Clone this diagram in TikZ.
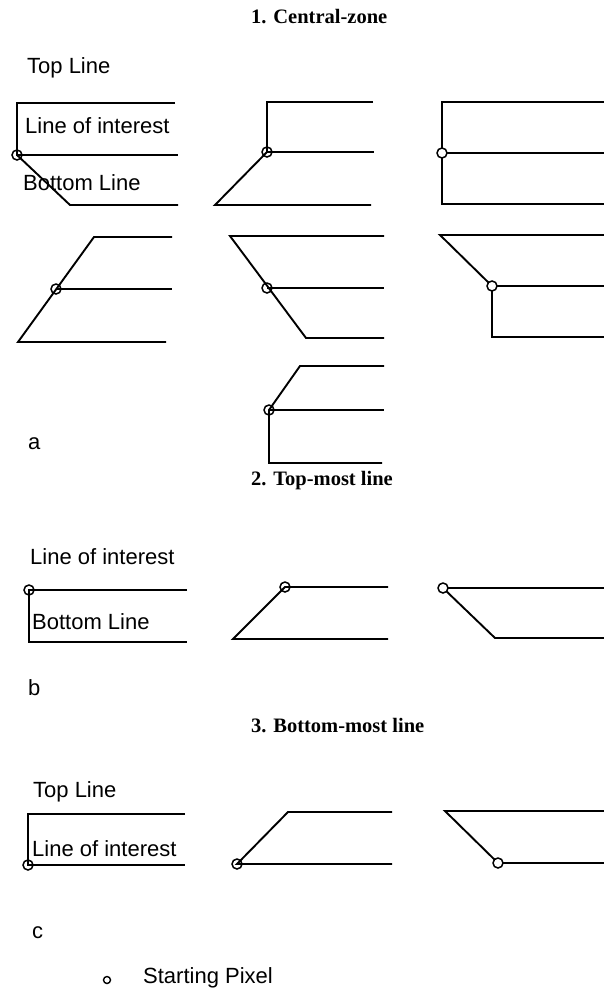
\documentclass[tikz,border=0pt]{standalone}
\usepackage{fontspec}
\setmainfont{Liberation Serif}
\newfontfamily\arialf{Liberation Sans}
\begin{document}
\begin{tikzpicture}[x=1pt,y=-1pt,
  ln/.style={line width=1.9pt, line join=miter},
  sphol/.style={circle, draw, line width=1.5pt, fill=white, minimum size=10pt, inner sep=0pt},
  spx/.style={circle, draw, line width=1.5pt, minimum size=10pt, inner sep=0pt},
  lbl/.style={anchor=west, inner sep=0pt, font=\arialf\fontsize{22}{25}\selectfont},
  ttl/.style={anchor=west, inner sep=0pt, font=\fontsize{20.5}{24}\selectfont\bfseries}]
\useasboundingbox[fill=white] (0,0) rectangle (604,990);

% titles and labels
\node[ttl] (t1) at (251,17) {1. Central-zone};
\node[ttl] (t2) at (251,481) {2. Top-most line};
\node[ttl] (t3) at (251,726) {3. Bottom-most line};
\node[lbl] (l1) at (27,68) {Top Line};
\node[lbl] (l2) at (25,126) {Line of interest};
\node[lbl] (l3) at (23,183) {Bottom Line};
\node[lbl] (la) at (28,444) {a};
\node[lbl] (l4) at (30,557) {Line of interest};
\node[lbl] (l5) at (32,622) {Bottom Line};
\node[lbl] (lb) at (28,688) {b};
\node[lbl] (l6) at (33,792) {Top Line};
\node[lbl] (l7) at (32,849) {Line of interest};
\node[lbl] (lc) at (32,933) {c};
\node[lbl] (l8) at (143,978) {Starting Pixel};
\node[circle, draw, line width=1.4pt, minimum size=7pt, inner sep=0pt] (leg) at (107,980) {};

% ---- panel a1
\coordinate (a1t) at (17,103); \coordinate (a1te) at (175,103);
\coordinate (a1s) at (17,155); \coordinate (a1me) at (178,155);
\coordinate (a1b) at (70,205); \coordinate (a1be) at (178,205);
\draw[ln] (a1te) -- (a1t) -- (a1s) -- (a1me);
\draw[ln] (a1s) -- (a1b) -- (a1be);
\node[spx] (a1c) at (a1s) {};
% ---- panel a2
\coordinate (a2t) at (267,102); \coordinate (a2te) at (373,102);
\coordinate (a2s) at (267,152); \coordinate (a2me) at (374,152);
\coordinate (a2b) at (215,205); \coordinate (a2be) at (371,205);
\draw[ln] (a2te) -- (a2t) -- (a2s) -- (a2me);
\draw[ln] (a2s) -- (a2b) -- (a2be);
\node[spx] (a2c) at (a2s) {};
% ---- panel a3
\coordinate (a3t) at (442,102); \coordinate (a3te) at (604,102);
\coordinate (a3s) at (442,153); \coordinate (a3me) at (604,153);
\coordinate (a3b) at (442,204); \coordinate (a3be) at (604,204);
\draw[ln] (a3te) -- (a3t) -- (a3b) -- (a3be);
\draw[ln] (a3s) -- (a3me);
\node[sphol] (a3c) at (a3s) {};
% ---- panel a4
\coordinate (a4t) at (94,237); \coordinate (a4te) at (172,237);
\coordinate (a4s) at (56,289); \coordinate (a4me) at (172,289);
\coordinate (a4b) at (18,342); \coordinate (a4be) at (166,342);
\draw[ln] (a4te) -- (a4t) -- (a4b) -- (a4be);
\draw[ln] (a4s) -- (a4me);
\node[spx] (a4c) at (a4s) {};
% ---- panel a5
\coordinate (a5t) at (230,236); \coordinate (a5te) at (384,236);
\coordinate (a5s) at (267,288); \coordinate (a5me) at (384,288);
\coordinate (a5b) at (306,338); \coordinate (a5be) at (384,338);
\draw[ln] (a5te) -- (a5t) -- (a5b) -- (a5be);
\draw[ln] (a5s) -- (a5me);
\node[spx] (a5c) at (a5s) {};
% ---- panel a6
\coordinate (a6t) at (440,235); \coordinate (a6te) at (604,235);
\coordinate (a6s) at (492,286); \coordinate (a6me) at (604,286);
\coordinate (a6b) at (492,337); \coordinate (a6be) at (604,337);
\draw[ln] (a6te) -- (a6t) -- (a6s) -- (a6b) -- (a6be);
\draw[ln] (a6s) -- (a6me);
\node[sphol] (a6c) at (a6s) {};
% ---- panel a7
\coordinate (a7t) at (300,366); \coordinate (a7te) at (384,366);
\coordinate (a7s) at (269,410); \coordinate (a7me) at (384,410);
\coordinate (a7b) at (269,463); \coordinate (a7be) at (382,463);
\draw[ln] (a7te) -- (a7t) -- (a7s) -- (a7b) -- (a7be);
\draw[ln] (a7s) -- (a7me);
\node[spx] (a7c) at (a7s) {};

% ---- panel b1
\coordinate (b1s) at (29,590); \coordinate (b1te) at (187,590);
\coordinate (b1b) at (29,642); \coordinate (b1be) at (187,642);
\draw[ln] (b1te) -- (b1s) -- (b1b) -- (b1be);
\node[spx] (b1c) at (b1s) {};
% ---- panel b2
\coordinate (b2s) at (285,587); \coordinate (b2te) at (388,587);
\coordinate (b2b) at (233,639); \coordinate (b2be) at (388,639);
\draw[ln] (b2te) -- (b2s) -- (b2b) -- (b2be);
\node[spx] (b2c) at (b2s) {};
% ---- panel b3
\coordinate (b3s) at (443,588); \coordinate (b3te) at (604,588);
\coordinate (b3b) at (495,638); \coordinate (b3be) at (604,638);
\draw[ln] (b3te) -- (b3s) -- (b3b) -- (b3be);
\node[sphol] (b3c) at (b3s) {};

% ---- panel c1
\coordinate (c1t) at (28,814); \coordinate (c1te) at (185,814);
\coordinate (c1s) at (28,865); \coordinate (c1be) at (185,865);
\draw[ln] (c1te) -- (c1t) -- (c1s) -- (c1be);
\node[spx] (c1c) at (c1s) {};
% ---- panel c2
\coordinate (c2t) at (288,812); \coordinate (c2te) at (392,812);
\coordinate (c2s) at (237,864); \coordinate (c2be) at (392,864);
\draw[ln] (c2te) -- (c2t) -- (c2s) -- (c2be);
\node[spx] (c2c) at (c2s) {};
% ---- panel c3
\coordinate (c3t) at (445,811); \coordinate (c3te) at (604,811);
\coordinate (c3s) at (498,863); \coordinate (c3be) at (604,863);
\draw[ln] (c3te) -- (c3t) -- (c3s) -- (c3be);
\node[sphol] (c3c) at (c3s) {};
\end{tikzpicture}
\end{document}
